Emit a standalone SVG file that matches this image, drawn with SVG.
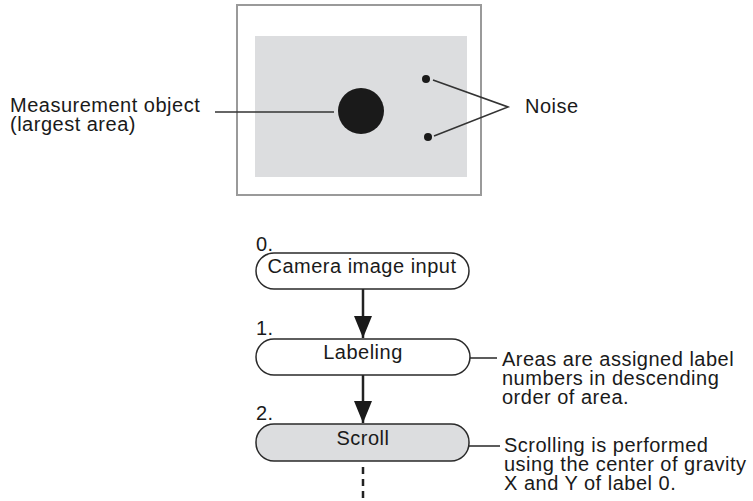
<svg xmlns="http://www.w3.org/2000/svg" width="753" height="501" viewBox="0 0 753 501">
<defs>
<style>
text{font-family:"Liberation Sans",Arial,sans-serif;font-size:20px;letter-spacing:0.5px;fill:#1a1a1a}
.pill{stroke:#2a2a2a;stroke-width:1.5}
.lead{stroke:#333;stroke-width:1.6;fill:none}
.flow{stroke:#222;stroke-width:2.5;fill:none}
.mid{text-anchor:middle}
</style>
<marker id="ah" viewBox="0 0 22 18" refX="22" refY="9" markerWidth="22" markerHeight="18" markerUnits="userSpaceOnUse" orient="auto">
<path d="M0,0 L22,9 L0,18 Z" fill="#1a1a1a"/>
</marker>
</defs>
<g id="image">
<rect x="237" y="5" width="244" height="190" fill="#fff" stroke="#9a9a9a" stroke-width="2"/>
<rect x="255" y="36" width="212" height="141" fill="#dcdddf"/>
<circle cx="361" cy="111" r="23" fill="#1a1a1a"/>
<circle cx="426" cy="79" r="4" fill="#1a1a1a"/>
<circle cx="428" cy="137" r="4" fill="#1a1a1a"/>
</g>
<g id="labels-top">
<text x="10" y="112">Measurement object</text>
<text x="10" y="131">(largest area)</text>
<text x="525" y="113">Noise</text>
</g>
<g id="connectors">
<line class="lead" x1="215" y1="112" x2="334" y2="112"/>
<polyline class="lead" points="433,80 508,107 434,136"/>
<line class="flow" x1="363" y1="289" x2="363" y2="338" marker-end="url(#ah)"/>
<line class="flow" x1="363" y1="375" x2="363" y2="423" marker-end="url(#ah)"/>
<line class="flow" x1="363" y1="467" x2="363" y2="501" stroke-dasharray="7,5"/>
<line class="lead" x1="470" y1="358" x2="497" y2="358" stroke-width="2"/>
<line class="lead" x1="469" y1="446" x2="500" y2="446" stroke-width="2"/>
</g>
<g id="node0">
<text x="256" y="251">0.</text>
<rect class="pill" x="256" y="253" width="213" height="36" rx="18" ry="18" fill="#fff"/>
<text class="mid" x="362" y="273">Camera image input</text>
</g>
<g id="node1">
<text x="256" y="335">1.</text>
<rect class="pill" x="256" y="339" width="214" height="36" rx="18" ry="18" fill="#fff"/>
<text class="mid" x="363" y="359">Labeling</text>
</g>
<g id="node2">
<text x="256" y="420">2.</text>
<rect class="pill" x="256" y="424" width="213" height="37" rx="18" ry="18" fill="#dcdddf"/>
<text class="mid" x="363" y="445">Scroll</text>
</g>
<g id="note1">
<text x="502" y="366">Areas are assigned label</text>
<text x="502" y="385">numbers in descending</text>
<text x="502" y="404">order of area.</text>
</g>
<g id="note2">
<text x="504" y="452">Scrolling is performed</text>
<text x="504" y="471">using the center of gravity</text>
<text x="504" y="490">X and Y of label 0.</text>
</g>
</svg>
